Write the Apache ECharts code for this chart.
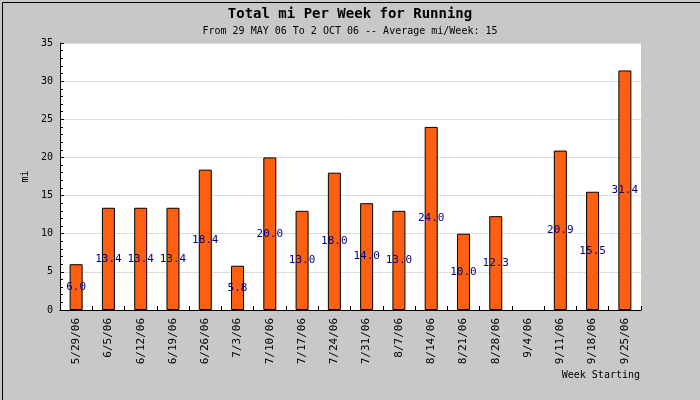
<!DOCTYPE html>
<html>
<head>
<meta charset="utf-8">
<script src="https://cdn.jsdelivr.net/npm/echarts@6/dist/echarts.min.js"></script>
<style>
html,body{margin:0;padding:0;background:#c8c8c8;}
#chart{width:700px;height:400px;}
</style>
</head>
<body>
<div id="chart"></div>
<script>
var weeks = ['5/29/06','6/5/06','6/12/06','6/19/06','6/26/06','7/3/06','7/10/06','7/17/06','7/24/06','7/31/06','8/7/06','8/14/06','8/21/06','8/28/06','9/4/06','9/11/06','9/18/06','9/25/06'];
var miles = [6.0, 13.4, 13.4, 13.4, 18.4, 5.8, 20.0, 13.0, 18.0, 14.0, 13.0, 24.0, 10.0, 12.3, null, 20.9, 15.5, 31.4];
var titleText = 'Total mi Per Week for Running';
var subtitleText = 'From 29 MAY 06 To 2 OCT 06 -- Average mi/Week: 15';
var yName = 'mi';
var xName = 'Week Starting';

var mono = 'DejaVu Sans Mono';
var chart = echarts.init(document.getElementById('chart'), null, {renderer: 'canvas'});
chart.setOption({
  backgroundColor: '#c8c8c8',
  animation: false,
  title: [
    {text: titleText, left: 'center', top: 2, textStyle: {fontFamily: mono, fontSize: 14, fontWeight: 'bold', color: '#000'}},
    {text: subtitleText, left: 'center', top: 21, textStyle: {fontFamily: mono, fontSize: 10, fontWeight: 'normal', color: '#000'}}
  ],
  grid: {left: 60, right: 59, top: 43, bottom: 90, show: true, backgroundColor: '#ffffff', borderWidth: 0},
  xAxis: {
    type: 'category',
    data: weeks,
    axisLine: {lineStyle: {color: '#000', width: 1}},
    axisTick: {show: true, inside: true, length: 4, lineStyle: {color: '#000'}},
    axisLabel: {rotate: 90, interval: 0, fontFamily: mono, fontSize: 11, color: '#000', margin: 8}
  },
  yAxis: {
    type: 'value',
    min: 0, max: 35, interval: 5,
    name: yName,
    nameLocation: 'middle',
    nameRotate: 90,
    nameGap: 21,
    nameTextStyle: {fontFamily: mono, fontSize: 10, color: '#000'},
    axisLine: {show: true, lineStyle: {color: '#000', width: 1}},
    axisTick: {show: true, inside: true, length: 4, lineStyle: {color: '#000'}},
    minorTick: {show: true, splitNumber: 5, length: 3, lineStyle: {color: '#000'}},
    axisLabel: {fontFamily: mono, fontSize: 10, color: '#000', margin: 7},
    splitLine: {show: true, lineStyle: {color: '#dcdcdc', width: 1}}
  },
  series: [{
    type: 'bar',
    data: miles,
    barWidth: 13,
    itemStyle: {color: '#ff5f10', borderColor: '#000', borderWidth: 1},
    label: {
      show: true,
      position: 'inside',
      fontFamily: mono,
      fontSize: 11,
      color: '#000080',
      formatter: function (p) { return p.value == null ? '' : p.value.toFixed(1); }
    }
  }],
  graphic: [
    {type: 'text', right: 60, top: 370, style: {text: xName, font: '10px "DejaVu Sans Mono"', fill: '#000'}},
    {type: 'rect', left: 0, top: 0, shape: {x: 0.5, y: 0.5, width: 699, height: 399}, style: {fill: 'none', stroke: '#000', lineWidth: 1}}
  ]
});
</script>
</body>
</html>
